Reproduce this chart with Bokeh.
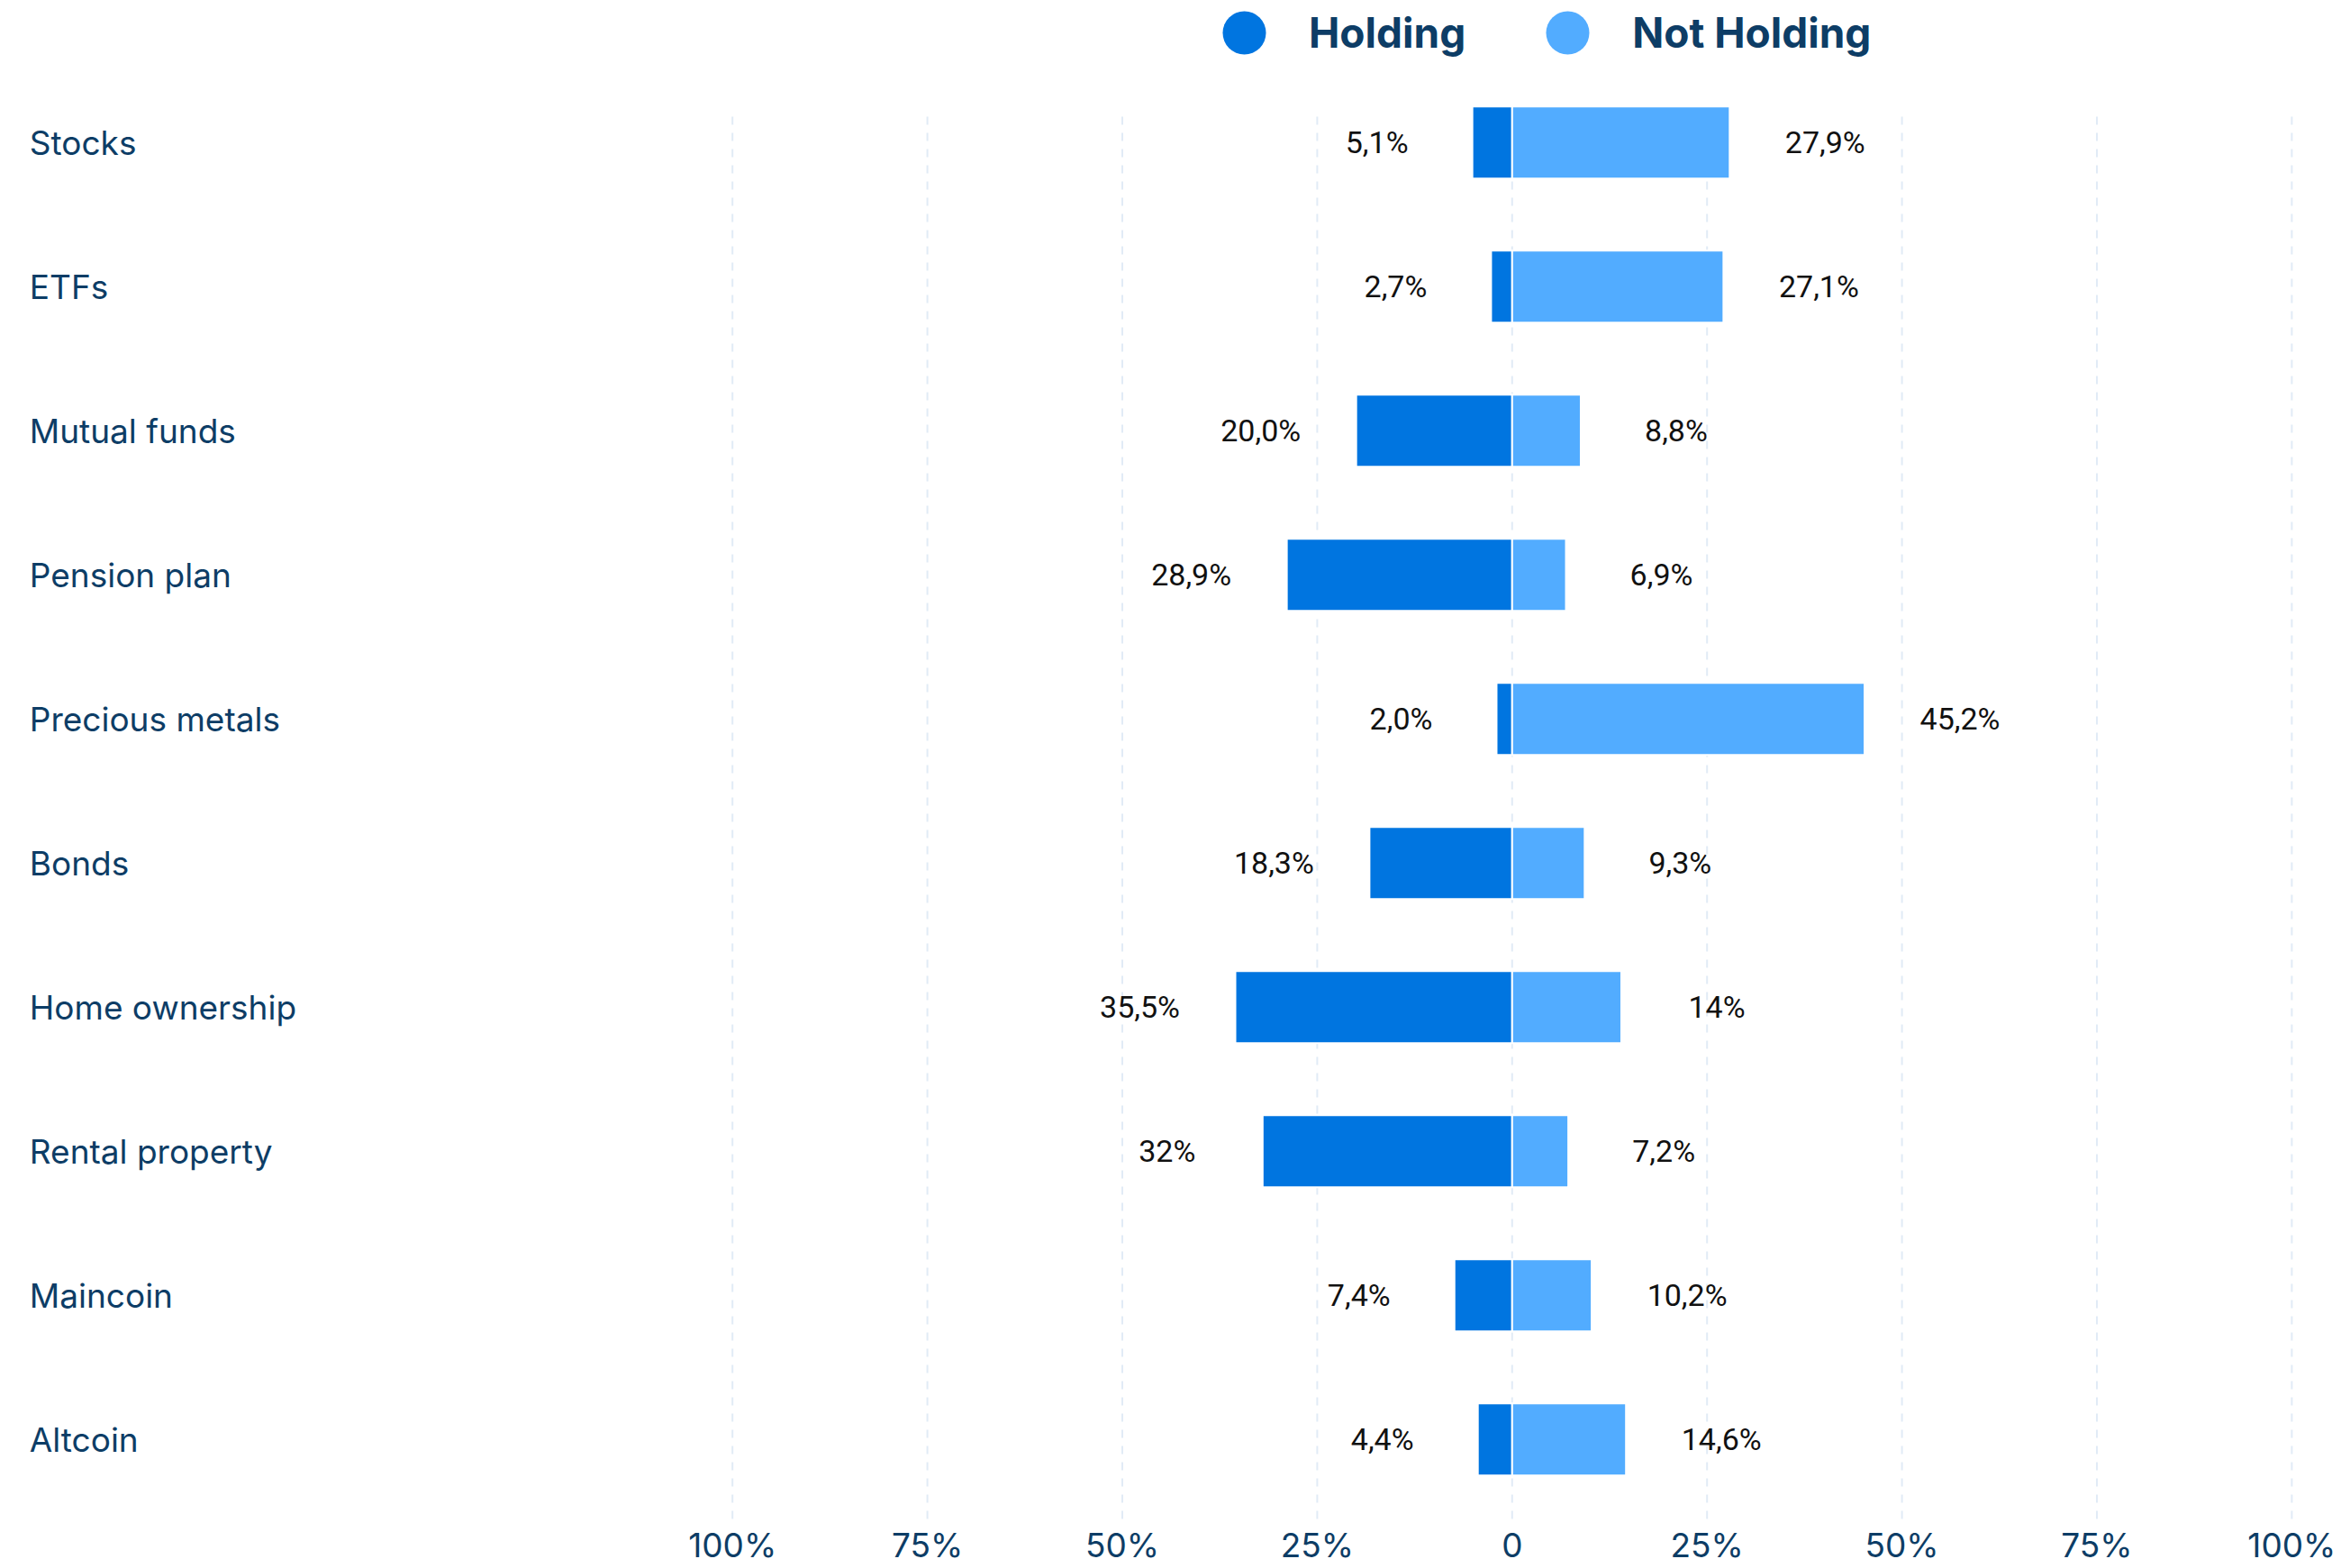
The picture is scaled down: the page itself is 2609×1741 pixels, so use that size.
from bokeh.plotting import figure
from bokeh.models import ColumnDataSource, Range1d, FixedTicker, Legend, LegendItem
from bokeh.core.properties import value
from bokeh.embed import file_html
from bokeh.resources import INLINE

# ---- data ----
categories = ["Stocks", "ETFs", "Mutual funds", "Pension plan", "Precious metals",
              "Bonds", "Home ownership", "Rental property", "Maincoin", "Altcoin"]
holding = [5.1, 2.7, 20.0, 28.9, 2.0, 18.3, 35.5, 32, 7.4, 4.4]
not_holding = [27.9, 27.1, 8.8, 6.9, 45.2, 9.3, 14, 7.2, 10.2, 14.6]
holding_labels = ["5,1%", "2,7%", "20,0%", "28,9%", "2,0%", "18,3%", "35,5%", "32%", "7,4%", "4,4%"]
not_holding_labels = ["27,9%", "27,1%", "8,8%", "6,9%", "45,2%", "9,3%", "14%", "7,2%", "10,2%", "14,6%"]
tick_values = [-100, -75, -50, -25, 0, 25, 50, 75, 100]
tick_labels = ["100%", "75%", "50%", "25%", "0", "25%", "50%", "75%", "100%"]
series_names = ["Holding", "Not Holding"]

# ---- style / layout ----
NAVY = "#0d3d66"
C_HOLD = "#0075e0"
C_NOT = "#52acff"
GRID = "#e1ebf6"

PX_PER_UNIT = 8.656
FRAME_W = 2600
FRAME_H = 1690
X_START = -1678.3 / PX_PER_UNIT
X_END = X_START + FRAME_W / PX_PER_UNIT
ROW_PX = 160.0
Y_TOP = -157.7 / ROW_PX
Y_BOTTOM = Y_TOP + FRAME_H / ROW_PX
GRID_TOP = Y_TOP + 129 / ROW_PX

idx = list(range(len(categories)))
src = ColumnDataSource(dict(
    y=idx,
    cat=categories,
    hold_left=[-v for v in holding],
    not_right=not_holding,
    hold_lab=holding_labels,
    not_lab=not_holding_labels,
    cat_x=[X_START + 32.3 / PX_PER_UNIT] * len(categories),
))
grid_src = ColumnDataSource(dict(
    x=tick_values,
    y0=[GRID_TOP] * len(tick_values),
    y1=[Y_BOTTOM] * len(tick_values),
))

p = figure(frame_width=FRAME_W, frame_height=FRAME_H,
           x_range=Range1d(X_START, X_END), y_range=Range1d(Y_BOTTOM, Y_TOP),
           output_backend="svg", toolbar_location=None, tools="",
           min_border_left=0, min_border_right=0, min_border_top=0, min_border_bottom=0)
p.outline_line_color = None
p.background_fill_color = "white"
p.border_fill_color = "white"
p.xgrid.visible = False
p.ygrid.visible = False

# dashed vertical gridlines at the tick positions
p.segment(x0="x", x1="x", y0="y0", y1="y1", source=grid_src,
          line_color=GRID, line_width=2, line_dash="9 9")

# bars
p.hbar(y="y", left="hold_left", right=0, height=0.5, source=src,
       fill_color=C_HOLD, line_color="white", line_width=2)
p.hbar(y="y", left=0, right="not_right", height=0.5, source=src,
       fill_color=C_NOT, line_color="white", line_width=2)

# value labels
p.text(x="hold_left", y="y", text="hold_lab", source=src, x_offset=-106,
       text_align="center", text_baseline="middle",
       text_font=value("Roboto"), text_font_size="34px", text_color="#111111")
p.text(x="not_right", y="y", text="not_lab", source=src, x_offset=106,
       text_align="center", text_baseline="middle",
       text_font=value("Roboto"), text_font_size="34px", text_color="#111111")

# category labels
p.text(x="cat_x", y="y", text="cat", source=src,
       text_align="left", text_baseline="middle",
       text_font=value("Inter"), text_font_size="37px", text_color=NAVY)

# axes
p.yaxis.visible = False
xa = p.xaxis[0]
xa.ticker = FixedTicker(ticks=tick_values)
xa.major_label_overrides = {v: t for v, t in zip(tick_values, tick_labels)}
xa.axis_line_color = None
xa.major_tick_line_color = None
xa.minor_tick_line_color = None
xa.major_tick_out = 0
xa.major_tick_in = 0
xa.major_label_standoff = 2
xa.major_label_text_font = "Inter"
xa.major_label_text_font_size = "37px"
xa.major_label_text_color = NAVY

# legend (proxy markers, not drawn in the plot itself)
nan = float("nan")
r_h = p.scatter(x=[nan], y=[nan], marker="circle", size=48, fill_color=C_HOLD, line_color=None)
r_n = p.scatter(x=[nan], y=[nan], marker="circle", size=48, fill_color=C_NOT, line_color=None)
legend = Legend(items=[LegendItem(label=series_names[0], renderers=[r_h], index=0),
                       LegendItem(label=series_names[1], renderers=[r_n], index=0)],
                orientation="horizontal", location=(1321, FRAME_H - 95.5),
                glyph_width=120, glyph_height=120, label_standoff=12, spacing=53,
                padding=0, margin=0, border_line_color=None, background_fill_alpha=0,
                label_text_font="Inter", label_text_font_style="bold",
                label_text_font_size="46px", label_text_color=NAVY,
                label_text_baseline="middle")
p.add_layout(legend, "center")

open("out.html", "w").write(file_html(p, INLINE))
